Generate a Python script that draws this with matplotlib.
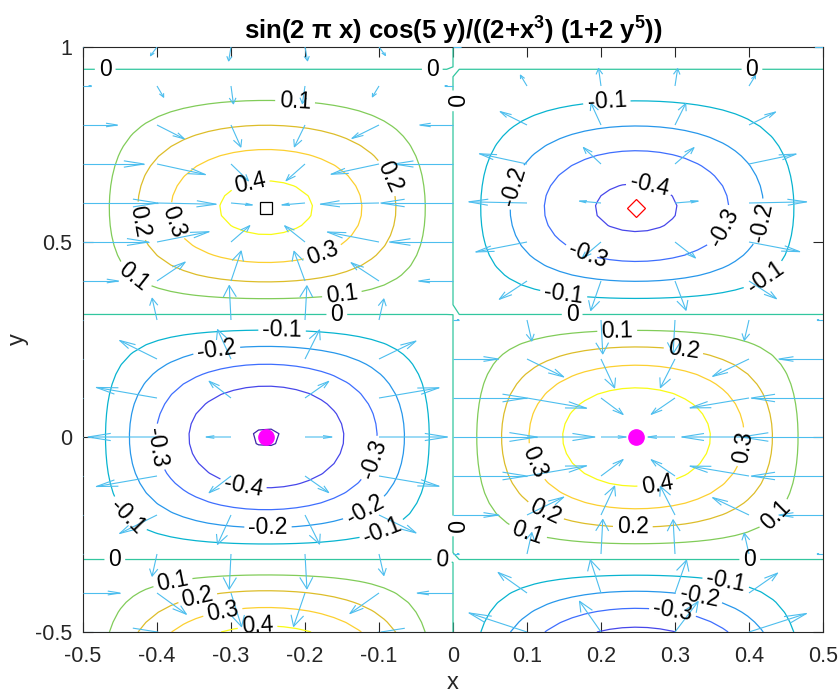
import numpy as np
import matplotlib
matplotlib.use("Agg")
import matplotlib.pyplot as plt
from matplotlib.colors import LinearSegmentedColormap, Normalize
from matplotlib.collections import LineCollection

plt.rcParams['font.family'] = ['Liberation Sans', 'DejaVu Sans']
plt.rcParams['axes.unicode_minus'] = False
plt.rcParams['mathtext.fontset'] = 'custom'
plt.rcParams['mathtext.rm'] = 'Liberation Sans:bold'
plt.rcParams['mathtext.it'] = 'Liberation Sans:bold'
plt.rcParams['mathtext.bf'] = 'Liberation Sans:bold'

# ---------------- data ----------------
x_range = [-0.5, 0.5]
y_range = [-0.5, 1.0]
n_contour = 60                      # ezcontour grid
n_qx, n_qy = 11, 16                 # quiver grid (step 0.1)
levels = [-0.5, -0.4, -0.3, -0.2, -0.1, 0.0, 0.1, 0.2, 0.3, 0.4]
x_ticks = [-0.5, -0.4, -0.3, -0.2, -0.1, 0, 0.1, 0.2, 0.3, 0.4, 0.5]
y_ticks = [-0.5, 0, 0.5, 1]

# extrema markers
sq_x, sq_y = [-0.2524], [0.587]          # local max (square)
dm_x, dm_y = [0.2476], [0.587]           # local min (diamond)
ci_x, ci_y = [-0.2524, 0.2476], [0.0, 0.0]  # global min / max (circles)

# contour label positions (data coords)
label_x = [-0.470, -0.028, 0.0, -0.2135, -0.274, -0.096, -0.382, -0.430, -0.176, -0.430, -0.150, -0.157,
           0.404, 0.208, 0.086, 0.264, 0.364, 0.418, 0.181, 0.149, 0.422, 0.161,
           -0.231, -0.319, -0.399, -0.284, -0.112, -0.119, -0.096, -0.441, -0.250, -0.457, -0.015, 0.0,
           -0.378, -0.345, -0.311, -0.264,
           0.222, 0.311, 0.392, 0.107, 0.276, 0.124, 0.243, 0.101, 0.438, 0.401, 0.368, 0.331, 0.296]
label_y = [0.936, 0.936, 0.862, 0.856, 0.646, 0.659, 0.549, 0.551, 0.472, 0.415, 0.364, 0.313,
           0.936, 0.856, 0.641, 0.633, 0.538, 0.551, 0.462, 0.359, 0.408, 0.313,
           0.269, 0.218, -0.026, -0.128, -0.054, -0.187, -0.238, -0.205, -0.233, -0.315, -0.321, -0.228,
           -0.379, -0.413, -0.451, -0.490,
           0.267, 0.215, -0.026, -0.067, -0.123, -0.195, -0.233, -0.244, -0.205, -0.315, -0.379, -0.423, -0.456]


def f(x, y):
    return np.sin(2 * np.pi * x) * np.cos(5 * y) / ((2 + x ** 3) * (1 + 2 * y ** 5))


xc = np.linspace(x_range[0], x_range[1], n_contour)
yc = np.linspace(y_range[0], y_range[1], n_contour)
Xc, Yc = np.meshgrid(xc, yc)
Zc = f(Xc, Yc)

xq = np.linspace(x_range[0], x_range[1], n_qx)
yq = np.linspace(y_range[0], y_range[1], n_qy)
Xq, Yq = np.meshgrid(xq, yq)
Zq = f(Xq, Yq)
dZdy, dZdx = np.gradient(Zq, yq, xq)

# ---------------- style ----------------
parula_anchor = [
    (0.2422, 0.1504, 0.6603), (0.2803, 0.2782, 0.9221), (0.2440, 0.4358, 0.9988),
    (0.1540, 0.5902, 0.9218), (0.0297, 0.7082, 0.8163), (0.1938, 0.7758, 0.6251),
    (0.5044, 0.7993, 0.3480), (0.8634, 0.7406, 0.1596), (0.9892, 0.8136, 0.1885),
    (0.9769, 0.9839, 0.0805)]
cmap = LinearSegmentedColormap.from_list('parula_like', parula_anchor)
axc = '0.15'
quiver_color = '#4DBEEE'
tick_fs = 15.5
lab_fs = 16.5

fig = plt.figure(figsize=(8.39, 6.97), dpi=100)
ax = fig.add_axes([83 / 839, 1 - 632 / 697, 740 / 839, 585 / 697])
ax.set_xlim(x_range)
ax.set_ylim(y_range)

cs = ax.contour(Xc, Yc, Zc, levels=levels, cmap=cmap,
                norm=Normalize(levels[0], levels[-1]), linewidths=0.9, zorder=2)
ax.clabel(cs, manual=list(zip(label_x, label_y)), inline=True, inline_spacing=4,
          fmt='%g', fontsize=lab_fs, colors='k')

# quiver (MATLAB style autoscale and open arrow heads)
delx = (x_range[1] - x_range[0]) / n_qx
dely = (y_range[1] - y_range[0]) / n_qy
mag = np.sqrt(dZdx ** 2 + dZdy ** 2)
s = 0.9 * np.sqrt(delx ** 2 + dely ** 2) / mag.max()
U = (dZdx * s).ravel()
V = (dZdy * s).ravel()
X0 = Xq.ravel()
Y0 = Yq.ravel()
alpha, beta = 0.33, 0.30
segs = []
for x0, y0, u, v in zip(X0, Y0, U, V):
    tip = (x0 + u, y0 + v)
    segs.append([(x0, y0), tip])
    segs.append([(x0 + u - alpha * (u + beta * v), y0 + v - alpha * (v - beta * u)), tip,
                 (x0 + u - alpha * (u - beta * v), y0 + v - alpha * (v + beta * u))])
lc = LineCollection(segs, colors=quiver_color, linewidths=0.8, zorder=3)
ax.add_collection(lc, autolim=False)

ax.plot(sq_x, sq_y, 's', ms=8, mfc='none', mec='k', mew=0.9, zorder=5)
ax.plot(dm_x, dm_y, 'D', ms=9, mfc='none', mec='r', mew=0.9, zorder=5)
ax.plot(ci_x, ci_y, 'o', ms=11, mfc='#FF00FF', mec='#FF00FF', zorder=5)

ax.set_xlim(x_range)
ax.set_ylim(y_range)
ax.set_xticks(x_ticks)
ax.set_yticks(y_ticks)
ax.set_xticklabels(['%g' % t for t in x_ticks])
ax.set_yticklabels(['%g' % t for t in y_ticks])
ax.tick_params(axis='x', pad=10)
ax.tick_params(axis='y', pad=8)
ax.tick_params(direction='in', length=7, width=0.8, top=True, right=True,
               labelsize=tick_fs, color=axc, labelcolor=axc)
for sp in ax.spines.values():
    sp.set_color(axc)
    sp.set_linewidth(0.8)

ax.set_xlabel('x', fontsize=17, color=axc, labelpad=4)
ax.set_ylabel('y', fontsize=17, color=axc, labelpad=4)
ax.set_title(r'sin(2 π x) cos(5 y)/((2+x$^{3}$) (1+2 y$^{5}$))',
             fontsize=18.5, fontweight='bold', color='k', pad=5)

fig.savefig('out.png', dpi=100)
